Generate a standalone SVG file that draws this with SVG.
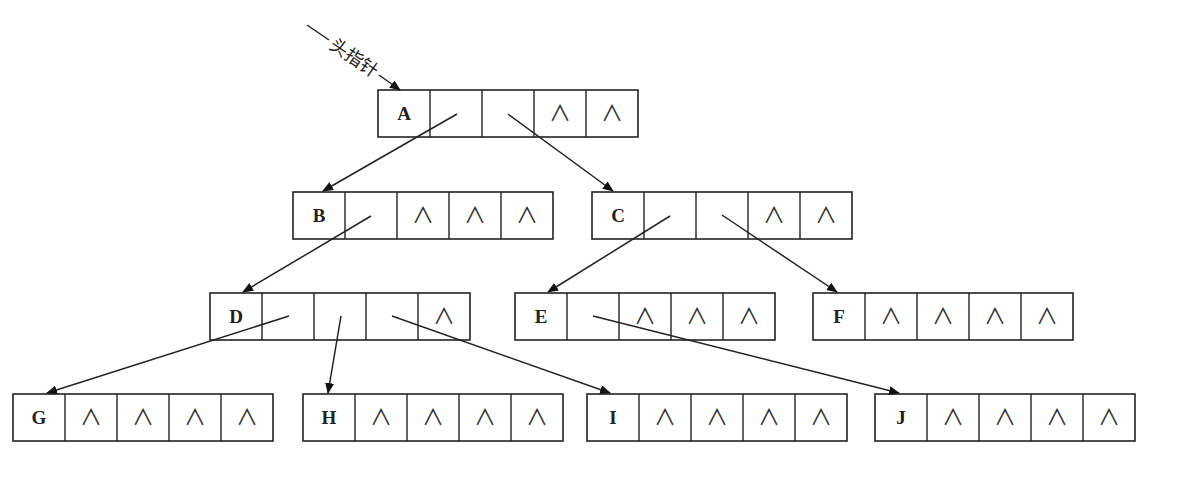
<svg xmlns="http://www.w3.org/2000/svg" width="1185" height="487" viewBox="0 0 1185 487">
<style>
.box{fill:#fff;stroke:#222;stroke-width:1.6}
.div{stroke:#222;stroke-width:1.4}
.lbl{font-family:"Liberation Serif","Times New Roman",serif;font-weight:bold;font-size:19px;fill:#222;text-anchor:middle}
.nil{font-family:"Noto Sans CJK SC","DejaVu Sans",sans-serif;font-size:22px;fill:#333;text-anchor:middle}
.con{stroke:#222;stroke-width:1.5;fill:none;marker-end:url(#ah)}
.hd{font-family:"Noto Sans CJK SC","Noto Sans CJK JP",sans-serif;font-size:18px;fill:#222;text-anchor:middle}
</style>
<defs>
<marker id="ah" markerUnits="userSpaceOnUse" markerWidth="11" markerHeight="9" refX="10" refY="4.5" orient="auto">
<path d="M0,0 L11,4.5 L0,9 z" fill="#111"/>
</marker>
<g id="cells">
<rect class="box" x="0" y="0" width="260" height="47"/>
<line class="div" x1="52" y1="0" x2="52" y2="47"/>
<line class="div" x1="104" y1="0" x2="104" y2="47"/>
<line class="div" x1="156" y1="0" x2="156" y2="47"/>
<line class="div" x1="208" y1="0" x2="208" y2="47"/>
</g>
</defs>
<rect width="1185" height="487" fill="#fff"/>

<g id="nodeA" transform="translate(378,90)">
<use href="#cells"/>
<text class="lbl" x="26" y="30">A</text>
<text class="nil" x="182" y="31">∧</text><text class="nil" x="234" y="31">∧</text>
</g>
<g id="nodeB" transform="translate(293,192)">
<use href="#cells"/>
<text class="lbl" x="26" y="30">B</text>
<text class="nil" x="130" y="31">∧</text><text class="nil" x="182" y="31">∧</text><text class="nil" x="234" y="31">∧</text>
</g>
<g id="nodeC" transform="translate(592,192)">
<use href="#cells"/>
<text class="lbl" x="26" y="30">C</text>
<text class="nil" x="182" y="31">∧</text><text class="nil" x="234" y="31">∧</text>
</g>
<g id="nodeD" transform="translate(210,293)">
<use href="#cells"/>
<text class="lbl" x="26" y="30">D</text>
<text class="nil" x="234" y="31">∧</text>
</g>
<g id="nodeE" transform="translate(515,293)">
<use href="#cells"/>
<text class="lbl" x="26" y="30">E</text>
<text class="nil" x="130" y="31">∧</text><text class="nil" x="182" y="31">∧</text><text class="nil" x="234" y="31">∧</text>
</g>
<g id="nodeF" transform="translate(813,293)">
<use href="#cells"/>
<text class="lbl" x="26" y="30">F</text>
<text class="nil" x="78" y="31">∧</text><text class="nil" x="130" y="31">∧</text><text class="nil" x="182" y="31">∧</text><text class="nil" x="234" y="31">∧</text>
</g>
<g id="nodeG" transform="translate(13,394)">
<use href="#cells"/>
<text class="lbl" x="26" y="30">G</text>
<text class="nil" x="78" y="31">∧</text><text class="nil" x="130" y="31">∧</text><text class="nil" x="182" y="31">∧</text><text class="nil" x="234" y="31">∧</text>
</g>
<g id="nodeH" transform="translate(303,394)">
<use href="#cells"/>
<text class="lbl" x="26" y="30">H</text>
<text class="nil" x="78" y="31">∧</text><text class="nil" x="130" y="31">∧</text><text class="nil" x="182" y="31">∧</text><text class="nil" x="234" y="31">∧</text>
</g>
<g id="nodeI" transform="translate(587,394)">
<use href="#cells"/>
<text class="lbl" x="26" y="30">I</text>
<text class="nil" x="78" y="31">∧</text><text class="nil" x="130" y="31">∧</text><text class="nil" x="182" y="31">∧</text><text class="nil" x="234" y="31">∧</text>
</g>
<g id="nodeJ" transform="translate(875,394)">
<use href="#cells"/>
<text class="lbl" x="26" y="30">J</text>
<text class="nil" x="78" y="31">∧</text><text class="nil" x="130" y="31">∧</text><text class="nil" x="182" y="31">∧</text><text class="nil" x="234" y="31">∧</text>
</g>

<g id="connectors">
<line x1="307" y1="25" x2="329" y2="40" stroke="#222" stroke-width="1.5"/>
<line class="con" x1="379" y1="75" x2="400" y2="90"/>
<text class="hd" transform="translate(354,58) rotate(34.5)" y="6">头指针</text>
<line class="con" x1="457" y1="114" x2="323" y2="191"/>
<line class="con" x1="508" y1="114" x2="613" y2="191"/>
<line class="con" x1="371" y1="216" x2="243" y2="292"/>
<line class="con" x1="670" y1="216" x2="548" y2="292"/>
<line class="con" x1="722" y1="215" x2="837" y2="292"/>
<line class="con" x1="289" y1="316" x2="47" y2="393"/>
<line class="con" x1="341" y1="316" x2="328" y2="393"/>
<line class="con" x1="392" y1="316" x2="610" y2="393"/>
<line class="con" x1="593" y1="316" x2="899" y2="393"/>
</g>
</svg>
